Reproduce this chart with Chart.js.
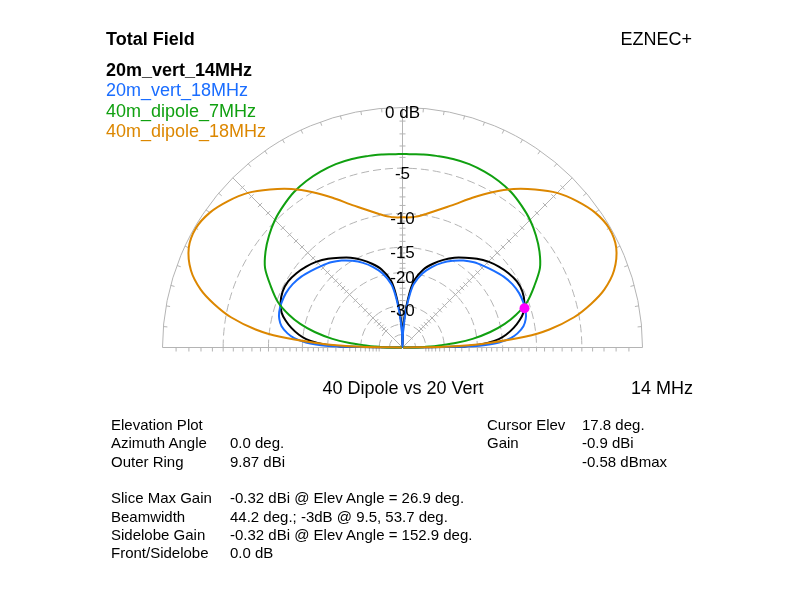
<!DOCTYPE html>
<html>
<head>
<meta charset="utf-8">
<script src="https://cdn.jsdelivr.net/npm/chart.js@4"></script>
<style>
body { margin: 0; background: #fff; }
#wrap { position: relative; width: 794px; height: 601px; font-family: "Liberation Sans", Arial, sans-serif; color: #000; overflow: hidden; }
#wrap canvas { position: absolute; left: 0; top: 0; }
.t { position: absolute; white-space: nowrap; line-height: 20px; }
.big { font-size: 18px; }
.info { font-size: 15px; }
</style>
</head>
<body>
<div id="wrap">
  <canvas id="plot" width="794" height="601"></canvas>
  <div class="t big" style="left:106px; top:29px; font-weight:bold;">Total Field</div>
  <div class="t big" style="right:102px; top:29px;">EZNEC+</div>
  <div id="legend"></div>
  <div class="t big" style="left:253px; width:300px; text-align:center; top:378px;">40 Dipole vs 20 Vert</div>
  <div class="t big" style="left:631px; top:378px;">14 MHz</div>

  <div class="t info" style="left:111px; top:415px;">Elevation Plot</div>
  <div class="t info" style="left:111px; top:433px;">Azimuth Angle</div>
  <div class="t info" style="left:230px; top:433px;">0.0 deg.</div>
  <div class="t info" style="left:111px; top:451.5px;">Outer Ring</div>
  <div class="t info" style="left:230px; top:451.5px;">9.87 dBi</div>

  <div class="t info" style="left:111px; top:488px;">Slice Max Gain</div>
  <div class="t info" style="left:230px; top:488px;">-0.32 dBi @ Elev Angle = 26.9 deg.</div>
  <div class="t info" style="left:111px; top:506.5px;">Beamwidth</div>
  <div class="t info" style="left:230px; top:506.5px;">44.2 deg.; -3dB @ 9.5, 53.7 deg.</div>
  <div class="t info" style="left:111px; top:525px;">Sidelobe Gain</div>
  <div class="t info" style="left:230px; top:525px;">-0.32 dBi @ Elev Angle = 152.9 deg.</div>
  <div class="t info" style="left:111px; top:543px;">Front/Sidelobe</div>
  <div class="t info" style="left:230px; top:543px;">0.0 dB</div>

  <div class="t info" style="left:487px; top:415px;">Cursor Elev</div>
  <div class="t info" style="left:582px; top:415px;">17.8 deg.</div>
  <div class="t info" style="left:487px; top:433px;">Gain</div>
  <div class="t info" style="left:582px; top:433px;">-0.9 dBi</div>
  <div class="t info" style="left:582px; top:451.5px;">-0.58 dBmax</div>
</div>

<script>
// elevation angles (deg) shared by all traces
const elev = [0, 1, 2, 3, 5, 7, 10, 13, 16, 20, 25, 30, 35, 40, 45, 50, 55, 60, 65, 70, 75, 80, 82, 84, 86, 88, 90,
  92, 94, 96, 98, 100, 105, 110, 115, 120, 125, 130, 135, 140, 145, 150, 155, 160, 164, 167, 170, 173, 175, 177, 178, 179, 180];

// gain in dB relative to the outer ring (9.87 dBi)
const vert14 = [-99, -24, -20, -17.8, -15.6, -14.3, -12.95, -11.9, -11.1, -10.55, -10.22, -10.25, -10.6, -11.1, -11.7, -12.5, -13.45, -14.4, -15.6, -17.0, -18.7, -21.5, -24.0, -28.5, -34, -44, -99,
  -44, -34, -28.5, -24.0, -21.5, -18.7, -17.0, -15.6, -14.4, -13.45, -12.5, -11.7, -11.1, -10.6, -10.25, -10.22, -10.55, -11.1, -11.9, -12.95, -14.3, -15.6, -17.8, -20, -24, -99];
const vert18 = [-99, -21, -17.5, -15.6, -13.6, -12.5, -11.5, -11.0, -10.75, -10.65, -10.7, -10.95, -11.4, -12.0, -12.6, -13.2, -14.0, -15.0, -16.2, -17.7, -19.6, -22.6, -25.4, -30, -37, -48, -99,
  -48, -37, -30, -25.4, -22.6, -19.6, -17.7, -16.2, -15.0, -14.0, -13.2, -12.6, -12.0, -11.4, -10.95, -10.7, -10.65, -10.75, -11.0, -11.5, -12.5, -13.6, -15.6, -17.5, -21, -99];
const dipole7 = [-99, -42, -37, -33, -25.5, -21, -17, -14.2, -12.2, -10.2, -8.6, -7.1, -6.2, -5.5, -4.9, -4.45, -4.05, -3.8, -3.65, -3.55, -3.55, -3.6, -3.62, -3.65, -3.67, -3.7, -3.7,
  -3.7, -3.67, -3.65, -3.62, -3.6, -3.55, -3.55, -3.65, -3.8, -4.05, -4.45, -4.9, -5.5, -6.2, -7.1, -8.6, -10.2, -12.2, -14.2, -17, -21, -25.5, -33, -37, -42, -99];
const dipole18 = [-99, -30, -22, -17.5, -11.5, -8.3, -5.5, -3.7, -2.3, -1.1, -0.3, -0.1, -0.35, -0.9, -1.6, -2.6, -3.7, -5.0, -6.4, -7.8, -8.9, -9.8, -10.1, -10.3, -10.45, -10.5, -10.5,
  -10.5, -10.45, -10.3, -10.1, -9.8, -8.9, -7.8, -6.4, -5.0, -3.7, -2.6, -1.6, -0.9, -0.35, -0.1, -0.3, -1.1, -2.3, -3.7, -5.5, -8.3, -11.5, -17.5, -22, -30, -99];

const seriesNames = ['20m_vert_14MHz', '20m_vert_18MHz', '40m_dipole_7MHz', '40m_dipole_18MHz'];
const seriesColors = ['#000000', '#1a6dff', '#10a010', '#dc8700'];
const seriesValues = [vert14, vert18, dipole7, dipole18];

const ringDb = [0, -5, -10, -15, -20, -30, -40, -50];
const ringLabels = ['0 dB', '-5', '-10', '-15', '-20', '-30', '', ''];
// dB steps of the small ticks along the radials
const tickDb = [1, 2, 3, 4, 5, 6, 7, 8, 9, 10, 11, 12, 13, 14, 15, 16, 17, 18, 19, 20, 22, 24, 26, 28, 30, 32, 34, 36, 38, 40];

const cursorElev = 17.8;
const cursorDb = -10.77;

// ARRL log scale: radius shrinks by 0.89 every 2 dB
function rho(db) {
    return Math.pow(0.89, -db / 2);
}

function toXY(angle, db) {
    const a = angle * Math.PI / 180;
    return { x: rho(db) * Math.cos(a), y: rho(db) * Math.sin(a) };
}

// legend text
const legendBox = document.getElementById('legend');
seriesNames.forEach((name, i) => {
    const d = document.createElement('div');
    d.className = 't';
    d.style.left = '106px';
    d.style.top = (60 + i * 20.3) + 'px';
    d.style.fontSize = '18px';
    d.style.color = seriesColors[i];
    if (i === 0) d.style.fontWeight = 'bold';
    d.textContent = name;
    legendBox.appendChild(d);
});

const gridColor = '#b4b4b4';

const polarGrid = {
    id: 'polarGrid',
    beforeDatasetsDraw(chart) {
        const { ctx, scales: { x, y } } = chart;
        const cx = x.getPixelForValue(0);
        const cy = y.getPixelForValue(0);
        const R = x.getPixelForValue(1) - cx;

        ctx.save();
        ctx.strokeStyle = gridColor;
        ctx.lineWidth = 1;

        // rings
        ringDb.forEach(db => {
            ctx.setLineDash(db === 0 ? [] : [8, 4]);
            ctx.beginPath();
            ctx.arc(cx, cy, rho(db) * R, Math.PI, 2 * Math.PI);
            ctx.stroke();
        });
        ctx.setLineDash([]);

        // axes and 45 deg radials
        ctx.beginPath();
        ctx.moveTo(cx - R, cy);
        ctx.lineTo(cx + R, cy);
        ctx.moveTo(cx, cy);
        ctx.lineTo(cx, cy - R);
        [45, 135].forEach(a => {
            const t = a * Math.PI / 180;
            ctx.moveTo(cx, cy);
            ctx.lineTo(cx + R * Math.cos(t), cy - R * Math.sin(t));
        });
        ctx.stroke();

        // dB ticks along the radials
        ctx.beginPath();
        tickDb.forEach(d => {
            const r = rho(-d) * R;
            ctx.moveTo(cx - r, cy);
            ctx.lineTo(cx - r, cy + 4);
            ctx.moveTo(cx + r, cy);
            ctx.lineTo(cx + r, cy + 4);
            ctx.moveTo(cx - 3, cy - r);
            ctx.lineTo(cx + 3, cy - r);
            [45, 135].forEach(a => {
                const t = a * Math.PI / 180;
                const px = cx + r * Math.cos(t), py = cy - r * Math.sin(t);
                const nx = Math.sin(t), ny = Math.cos(t);
                ctx.moveTo(px - 3 * nx, py - 3 * ny);
                ctx.lineTo(px + 3 * nx, py + 3 * ny);
            });
        });
        // 5 deg ticks on the outer ring
        for (let a = 5; a < 180; a += 5) {
            const t = a * Math.PI / 180;
            ctx.moveTo(cx + R * Math.cos(t), cy - R * Math.sin(t));
            ctx.lineTo(cx + (R - 4) * Math.cos(t), cy - (R - 4) * Math.sin(t));
        }
        ctx.stroke();
        ctx.restore();
    },
    afterDatasetsDraw(chart) {
        const { ctx, scales: { x, y } } = chart;
        const cx = x.getPixelForValue(0);
        const cy = y.getPixelForValue(0);
        const R = x.getPixelForValue(1) - cx;
        ctx.save();
        ctx.fillStyle = '#000';
        ctx.font = '17px "Liberation Sans", Arial, sans-serif';
        ctx.textAlign = 'center';
        ctx.textBaseline = 'alphabetic';
        ringDb.forEach((db, i) => {
            if (!ringLabels[i]) return;
            const ry = cy - rho(db) * R;
            ctx.fillText(ringLabels[i], cx, ry + 10.5);
        });
        ctx.restore();
    }
};

const datasets = seriesValues.map((vals, i) => ({
    label: seriesNames[i],
    data: elev.map((a, k) => toXY(a, vals[k])),
    showLine: true,
    borderColor: seriesColors[i],
    borderWidth: 2,
    pointRadius: 0,
    tension: 0.3,
    clip: false,
    order: 4 - i
}));

datasets.push({
    label: 'cursor',
    data: [toXY(cursorElev, cursorDb)],
    showLine: false,
    pointRadius: 5,
    pointBackgroundColor: '#ff00ff',
    pointBorderWidth: 0,
    clip: false,
    order: 0
});

new Chart(document.getElementById('plot'), {
    type: 'scatter',
    data: { datasets: datasets },
    options: {
        responsive: false,
        devicePixelRatio: 1,
        animation: false,
        layout: { padding: { left: 162.5, right: 151.5, top: 107.5, bottom: 253.5 } },
        scales: {
            x: { type: 'linear', min: -1, max: 1, display: false },
            y: { type: 'linear', min: 0, max: 1, display: false }
        },
        plugins: {
            legend: { display: false },
            tooltip: { enabled: false }
        }
    },
    plugins: [polarGrid]
});
</script>
</body>
</html>
